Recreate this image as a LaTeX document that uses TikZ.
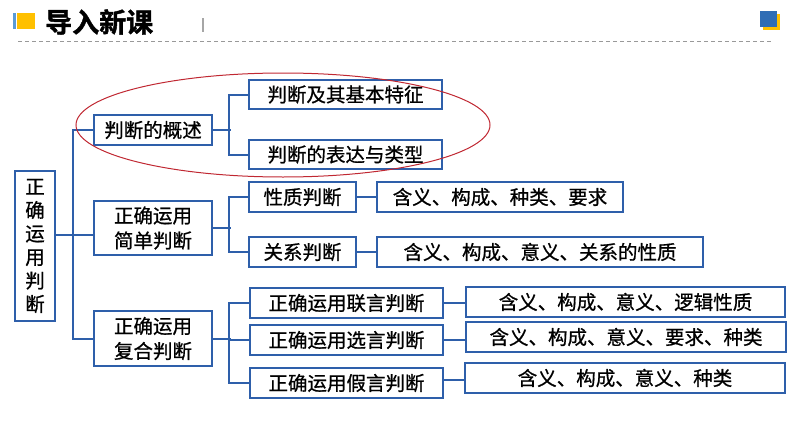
\documentclass[tikz,border=0pt]{standalone}
\usepackage{fontspec}
\newfontfamily\cjk[BoldFont={Noto Sans CJK SC Bold}, RawFeature={embolden=0.8}]{Noto Sans CJK SC}
\newfontfamily\cjktitle[RawFeature={embolden=1.5}]{Noto Sans CJK SC Bold}
\usetikzlibrary{calc}
\definecolor{lineblue}{RGB}{46,95,170}
\definecolor{hdrblue}{RGB}{47,109,181}
\definecolor{barblue}{RGB}{91,155,213}
\definecolor{hdryellow}{RGB}{255,192,0}
\definecolor{ovalred}{RGB}{192,40,50}
\tikzset{
  box/.style={draw=lineblue, line width=2pt, rectangle, inner sep=0pt, fill=white,
    font=\cjk\fontsize{19.5}{25}\selectfont, align=center, text=black},
  conn/.style={draw=lineblue, line width=2pt},
}
\begin{document}
\begin{tikzpicture}[x=1pt,y=-1pt]
\useasboundingbox (0,0) rectangle (794,447);
% header
\fill[barblue] (13,13) rectangle (15.5,29);
\fill[hdryellow] (17,13) rectangle (35,29);
\node[anchor=west, inner sep=0pt, font=\cjktitle\fontsize{27}{27}\selectfont] (title) at (45,22) {导入新课};
\draw[gray!70, line width=1.5pt] (203,18) -- (203,32);
\draw[gray!80, line width=1pt, dash pattern=on 4pt off 3pt] (18,41) -- (772,41);
\fill[hdryellow] (763,14) rectangle (780,30);
\fill[hdrblue] (760,11) rectangle (777,27);

% nodes
\node[box, minimum width=40, minimum height=150, font=\cjk\fontsize{19.5}{23.5}\selectfont] (root) at (35,246) {正\\确\\运\\用\\判\\断};
\node[box, minimum width=118, minimum height=30] (gai) at (153,130) {判断的概述};
\node[box, minimum width=118, minimum height=54] (jian) at (153,228) {正确运用\\简单判断};
\node[box, minimum width=118, minimum height=55] (fu) at (153,338.5) {正确运用\\复合判断};

\node[box, minimum width=193, minimum height=29] (a1) at (345.5,94.5) {判断及其基本特征};
\node[box, minimum width=193, minimum height=29] (a2) at (345.5,154.5) {判断的表达与类型};

\node[box, minimum width=107, minimum height=30] (b1) at (302.5,197) {性质判断};
\node[box, minimum width=107, minimum height=30] (b2) at (302.5,252) {关系判断};
\node[box, minimum width=246, minimum height=30] (b1d) at (500,197) {含义、构成、种类、要求};
\node[box, minimum width=326, minimum height=30] (b2d) at (540,252) {含义、构成、意义、关系的性质};

\node[box, minimum width=193, minimum height=30] (c1) at (346.5,303) {正确运用联言判断};
\node[box, minimum width=193, minimum height=30] (c2) at (346.5,340) {正确运用选言判断};
\node[box, minimum width=193, minimum height=30] (c3) at (346.5,383) {正确运用假言判断};
\node[box, minimum width=319, minimum height=30] (c1d) at (625.5,302) {含义、构成、意义、逻辑性质};
\node[box, minimum width=320, minimum height=30] (c2d) at (626,337) {含义、构成、意义、要求、种类};
\node[box, minimum width=320, minimum height=30] (c3d) at (625,378) {含义、构成、意义、种类};

% connectors
\draw[conn] (gai.west) -- ++(-20,0) |- (fu.west);
\draw[conn] ($(root.east)+(0,-11)$) -- ($(jian.west)+(0,7)$);

\draw[conn] (gai.east) -- ++(18,0);
\draw[conn] (a1.west) -- ++(-19,0) |- (a2.west);

\draw[conn] (jian.east) -- ++(18,0);
\draw[conn] (b1.west) -- ++(-19,0) |- (b2.west);
\draw[conn] (b1.east) -- (b1d.west);
\draw[conn] (b2.east) -- (b2d.west);

\draw[conn] (fu.east) -- ++(18,0);
\draw[conn] (c1.west) -- ++(-20,0) |- (c3.west);
\draw[conn] (c2.west) -- ++(-20,0);
\draw[conn] (c1.east) -- (c1.east -| c1d.west);
\draw[conn] (c2.east) -- (c2.east -| c2d.west);
\draw[conn] ($(c3.east)+(0,-3)$) -- ($(c3.east -| c3d.west)+(0,-3)$);

% oval
\draw[ovalred, line width=1pt] (283,125) ellipse [x radius=207, y radius=52];
\end{tikzpicture}
\end{document}
